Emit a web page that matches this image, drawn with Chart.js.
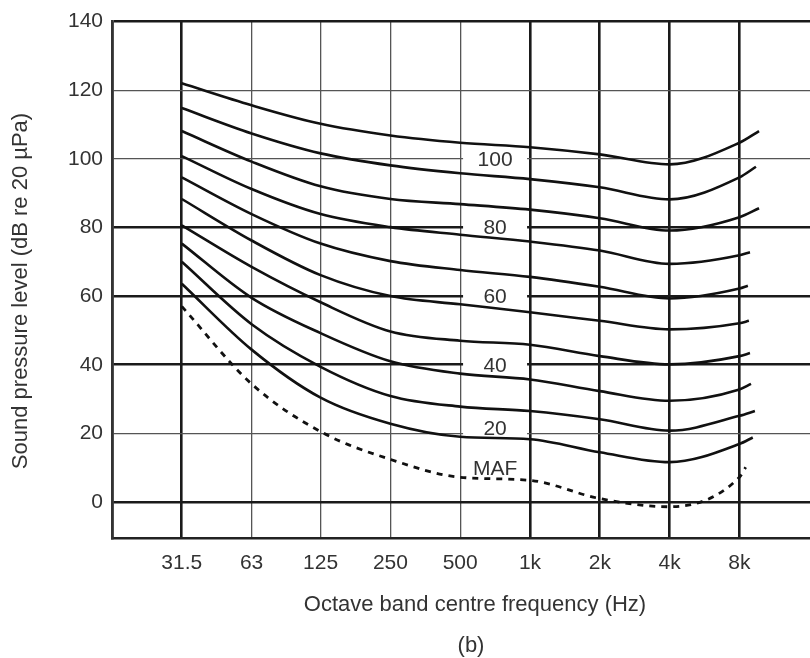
<!DOCTYPE html>
<html>
<head>
<meta charset="utf-8">
<title>Equal loudness contours (b)</title>
<script src="https://cdn.jsdelivr.net/npm/chart.js@4/dist/chart.umd.min.js"></script>
<style>
  html, body { margin: 0; padding: 0; background: #fff; }
  #chart { display: block; }
</style>
</head>
<body>
<canvas id="chart" width="810" height="658"></canvas>
<script>
/* ----------------------------------------------------------------------------
                                     DATA
---------------------------------------------------------------------------- */
var bandLabels = ['31.5', '63', '125', '250', '500', '1k', '2k', '4k', '8k'];
var bandFreqs  = [31.5, 63, 125, 250, 500, 1000, 2000, 4000, 8000];
var yTicks     = [0, 20, 40, 60, 80, 100, 120, 140];

// levels (dB) at each octave band, top curve first
var curve1  = [122.0, 115.6, 110.2, 106.8, 104.7, 103.4, 101.3, 98.4, 104.7];
var curve2  = [114.8, 107.4, 101.6, 98.1, 95.8, 94.1, 91.7, 88.2, 94.6];
var curve3  = [108.1, 99.2, 92.0, 88.3, 86.8, 85.2, 82.7, 79.1, 83.0];
var curve4  = [100.8, 91.2, 83.9, 80.1, 77.9, 75.9, 73.3, 69.4, 71.9];
var curve5  = [94.6, 83.9, 75.3, 70.2, 67.6, 65.6, 62.7, 59.3, 62.2];
var curve6  = [88.3, 76.2, 66.1, 60.0, 57.6, 55.3, 52.8, 50.3, 52.1];
var curve7  = [80.6, 68.5, 58.2, 49.7, 47.0, 45.8, 42.5, 40.1, 42.5];
var curve8  = [75.3, 59.5, 49.2, 41.0, 37.4, 35.7, 32.3, 29.5, 32.8];
var curve9  = [70.0, 51.8, 39.4, 30.9, 27.8, 26.5, 24.1, 20.8, 25.1];
var curve10 = [63.6, 44.4, 30.4, 22.8, 19.0, 18.3, 14.5, 11.6, 16.9];
var mafCurve = [57.0, 34.4, 20.5, 12.4, 7.2, 6.3, 1.0, -1.4, 7.2];

// each curve runs a little past 8k: last frequency and level
var endFreqs  = [9724, 9431, 9724, 8886, 8701, 8792, 8886, 8978, 9330, 9136, 8520];
var endLevels = [108.1, 97.7, 85.6, 72.8, 63.0, 52.8, 43.4, 34.4, 26.5, 18.8, 10.1];

// labels written on the curves (at 707 Hz, between 500 and 1k)
var contourLabels      = ['100', '80', '60', '40', '20', 'MAF'];
var contourLabelLevels = [100, 80, 60, 40, 21.6, 9.8];
var contourLabelFreq   = 707;

/* ----------------------------------------------------------------------------
                                     MAIN
---------------------------------------------------------------------------- */
var FONT = '"Liberation Sans", Arial, Helvetica, sans-serif';
var allCurves = [curve1, curve2, curve3, curve4, curve5, curve6, curve7, curve8, curve9, curve10, mafCurve];

var datasets = allCurves.map(function(levels, i) {
    var pts = levels.map(function(v, j) { return { x: bandFreqs[j], y: v }; });
    pts.push({ x: endFreqs[i], y: endLevels[i] });
    var isMaf = (levels === mafCurve);
    return {
        data: pts,
        borderColor: '#111',
        borderWidth: isMaf ? 2.8 : 2.6,
        borderDash: isMaf ? [6, 6] : [],
        pointRadius: 0,
        fill: false,
        cubicInterpolationMode: 'monotone'
    };
});

var xTicks = [15.75].concat(bandFreqs, [16128]);
var thickX = [15.75, 31.5, 1000, 2000, 4000, 8000];
var thickY = [0, 40, 60, 80, 140];

// Text drawn on the figure ---------------------------------------------------
var figureText = {
    id: 'figureText',
    beforeDatasetsDraw: function(chart) {
        var ctx = chart.ctx, sx = chart.scales.x, sy = chart.scales.y;
        ctx.save();
        ctx.font = '21px ' + FONT;
        ctx.textAlign = 'center';
        ctx.textBaseline = 'middle';
        for (var i = 0; i < contourLabels.length; i++) {
            var px = sx.getPixelForValue(contourLabelFreq);
            var py = sy.getPixelForValue(contourLabelLevels[i]);
            if (contourLabels[i] !== 'MAF') {
                ctx.fillStyle = '#fff';
                ctx.fillRect(px - 32, py - 12, 64, 25);
            }
            ctx.fillStyle = '#333';
            ctx.fillText(contourLabels[i], px, py + 1);
        }
        ctx.restore();
    },
    afterDraw: function(chart) {
        var ctx = chart.ctx;
        ctx.save();
        ctx.fillStyle = '#333';
        ctx.font = '22px ' + FONT;
        ctx.textAlign = 'center';
        ctx.textBaseline = 'alphabetic';
        ctx.fillText('Octave band centre frequency (Hz)', 475, 611);
        ctx.fillText('(b)', 471, 652);
        ctx.translate(27, 291);
        ctx.rotate(-Math.PI / 2);
        ctx.fillText('Sound pressure level (dB re 20 \u00b5Pa)', 0, 0);
        ctx.restore();
    }
};

// Chart ----------------------------------------------------------------------
var chart = new Chart(document.getElementById('chart'), {
    type: 'line',
    data: { datasets: datasets },
    plugins: [figureText],
    options: {
        responsive: false,
        animation: false,
        devicePixelRatio: 1,
        layout: { padding: { top: 18, right: 0, bottom: 0, left: 0 } },
        plugins: {
            legend: { display: false },
            tooltip: { enabled: false }
        },
        scales: {
            x: {
                type: 'logarithmic',
                min: 15.75,
                max: 16128,
                afterBuildTicks: function(scale) {
                    scale.ticks = xTicks.map(function(v) { return { value: v }; });
                },
                afterFit: function(scale) {
                    scale.height = 120;
                    scale.paddingLeft = 0;
                    scale.paddingRight = 0;
                },
                ticks: {
                    autoSkip: false,
                    maxRotation: 0,
                    padding: 13,
                    color: '#333',
                    font: { family: FONT, size: 21 },
                    callback: function(value) {
                        var k = bandFreqs.indexOf(value);
                        return k < 0 ? '' : bandLabels[k];
                    }
                },
                grid: {
                    drawTicks: false,
                    color: function(c) {
                        if (!c.tick || c.tick.value === 16128) return 'rgba(0,0,0,0)';
                        return thickX.indexOf(c.tick.value) >= 0 ? '#1a1a1a' : '#555';
                    },
                    lineWidth: function(c) {
                        return (c.tick && thickX.indexOf(c.tick.value) >= 0) ? 2.6 : 1.3;
                    }
                },
                border: { display: true, color: '#222', width: 2.6 }
            },
            y: {
                type: 'linear',
                min: -10.5,
                max: 140,
                afterBuildTicks: function(scale) {
                    scale.ticks = yTicks.map(function(v) { return { value: v }; });
                },
                afterFit: function(scale) { scale.width = 112; },
                ticks: {
                    padding: 9,
                    color: '#333',
                    font: { family: FONT, size: 21 }
                },
                grid: {
                    drawTicks: false,
                    color: function(c) {
                        return (c.tick && thickY.indexOf(c.tick.value) >= 0) ? '#1a1a1a' : '#555';
                    },
                    lineWidth: function(c) {
                        return (c.tick && thickY.indexOf(c.tick.value) >= 0) ? 2.6 : 1.3;
                    }
                },
                border: { display: true, color: '#333', width: 2.6 }
            }
        }
    }
});
</script>
</body>
</html>
